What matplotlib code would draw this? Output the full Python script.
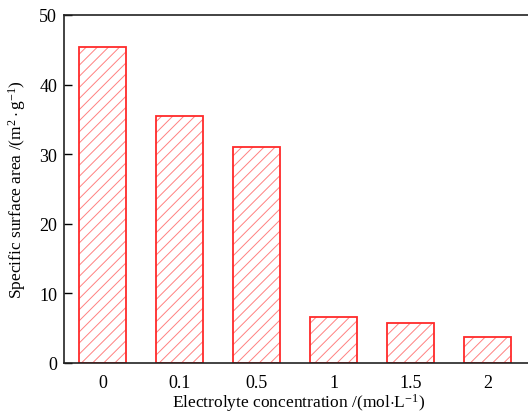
import numpy as np
import matplotlib
matplotlib.use("Agg")
import matplotlib.pyplot as plt

# values
concentrations = ["0", "0.1", "0.5", "1", "1.5", "2"]
surface_area = [45.4, 35.5, 31.0, 6.55, 5.75, 3.7]
y_ticks = [0, 10, 20, 30, 40, 50]

plt.rcParams['font.family'] = ['Liberation Serif', 'DejaVu Serif']
plt.rcParams['mathtext.fontset'] = 'custom'
plt.rcParams['mathtext.rm'] = 'Liberation Serif'
plt.rcParams['mathtext.it'] = 'Liberation Serif:italic'
plt.rcParams['hatch.linewidth'] = 0.7

fig = plt.figure(figsize=(5.28, 4.14), dpi=100)
ax = fig.add_axes([64 / 528, 1 - 364 / 414, 470 / 528, 348 / 414])

x = np.arange(len(concentrations))
# hatch fill in pale red, then the solid red outline on top
ax.bar(x, surface_area, width=0.61, color='white', edgecolor='#ff8080',
       hatch='///', linewidth=0)
ax.bar(x, surface_area, width=0.61, fill=False, edgecolor='#ff2a2a',
       linewidth=1.3)

ax.set_xlim(-0.5, 5.6)
ax.set_ylim(0, 50)
ax.set_yticks(y_ticks)
ax.set_xticks(x)
ax.set_xticklabels(concentrations)
ax.tick_params(axis='y', direction='in', length=6, width=1, labelsize=13, pad=5)
ax.tick_params(axis='x', length=0, labelsize=13, pad=8)
ax.spines['right'].set_visible(False)
for s in ['left', 'top', 'bottom']:
    ax.spines[s].set_linewidth(1.2)
    ax.spines[s].set_color('#222222')

ax.set_xlabel(r'Electrolyte concentration /(mol$\cdot$L$^{-1}$)', fontsize=12.5, labelpad=0)
ax.set_ylabel(r'Specific surface area /(m$^{2}\cdot$g$^{-1}$)', fontsize=12.5, labelpad=8)

fig.savefig('out.png', dpi=100)
